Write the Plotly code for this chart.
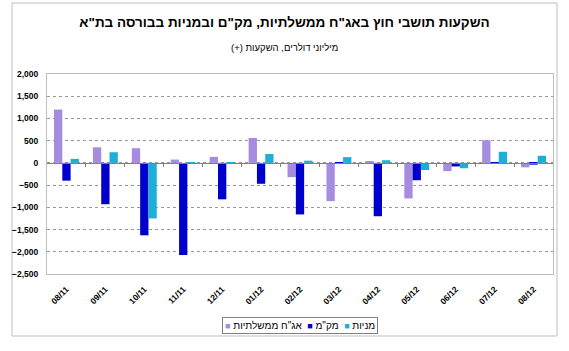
import plotly.graph_objects as go

months = ["08/11", "09/11", "10/11", "11/11", "12/11", "01/12", "02/12",
          "03/12", "04/12", "05/12", "06/12", "07/12", "08/12"]
gov_bonds = [1200, 350, 330, 75, 135, 560, -320, -860, 30, -800, -185, 510, -100]
makam = [-400, -930, -1630, -2070, -820, -470, -1160, -15, -1200, -390, -80, -10, -40]
stocks = [90, 240, -1250, -20, -10, 200, 50, 130, 60, -160, -120, 250, 160]

names = ['אג"ח ממשלתיות', 'מק"מ', 'מניות']
colors = ["#A68CDF", "#0000CC", "#1EAFD6"]
title = 'השקעות תושבי חוץ באג"ח ממשלתיות, מק"ם ובמניות בבורסה בת"א'
subtitle = "(+) מיליוני דולרים, השקעות"
yticks = [2000, 1500, 1000, 500, 0, -500, -1000, -1500, -2000, -2500]

FONT = "Arial, 'Liberation Sans', sans-serif"

fig = go.Figure()
for name, vals, col in zip(names, [gov_bonds, makam, stocks], colors):
    fig.add_trace(go.Bar(x=months, y=vals, name=name, marker=dict(color=col, line=dict(width=0))))

ymin, ymax = -2500, 2000
fig.update_layout(
    width=569, height=351,
    margin=dict(l=47, r=16, t=74, b=77),
    paper_bgcolor="white", plot_bgcolor="white",
    barmode="group", bargap=0.36, bargroupgap=0,
    font=dict(family=FONT, color="black"),
    title=dict(text="<b>" + title + "</b>", x=0.5, xref="container", xanchor="center",
               y=1 - 22 / 351, yref="container", yanchor="middle",
               font=dict(size=13.5, family=FONT, color="black")),
    showlegend=False,
    xaxis=dict(type="category", categoryarray=months, tickangle=-45, automargin=False,
               tickfont=dict(size=8.5, family=FONT, weight="bold"), ticks="", showline=True, mirror=True,
               linecolor="#BFBFBF", linewidth=1, showgrid=False, ticklabelstandoff=6),
    xaxis2=dict(overlaying="x", anchor="free", position=(0 - ymin) / (ymax - ymin),
                range=[-0.5, len(months) - 0.5], tickvals=[i + 0.5 for i in range(len(months) - 1)],
                showticklabels=False, ticks="outside", ticklen=3, tickcolor="#808080",
                showline=True, linecolor="#808080", linewidth=1, showgrid=False, zeroline=False),
    yaxis=dict(range=[ymin, ymax], tickvals=yticks, tickformat=",d", automargin=False,
               tickfont=dict(size=8.5, family=FONT, weight="bold"), showgrid=True, gridcolor="#999999",
               griddash="dot", gridwidth=1, zeroline=False, showline=True, mirror=True,
               linecolor="#BFBFBF", ticks="", ticklabelstandoff=6),
)
# invisible trace to activate xaxis2
fig.add_trace(go.Scatter(x=[0], y=[0], xaxis="x2", mode="markers", marker=dict(opacity=0),
                         showlegend=False, hoverinfo="skip"))

# subtitle
fig.add_annotation(text=subtitle, x=(284.5 - 47) / 506, xref="paper", xanchor="center",
                   y=(274 - 47) / 200, yref="paper", yanchor="middle", showarrow=False,
                   font=dict(size=9.5, family=FONT, color="black"))

# legend: swatch left of each label, items left-to-right in series order
sq = "<span style='color:%s;font-size:9px'>\u25A0</span>"
legend_text = "  \u200E".join(sq % c + " " + n for n, c in zip(names, colors))
fig.add_annotation(text=legend_text, x=(300 - 47) / 506, xref="paper", xanchor="center",
                   y=(274 - 325.5) / 200, yref="paper", yanchor="middle", showarrow=False,
                   bordercolor="#808080", borderwidth=1, borderpad=2, bgcolor="white",
                   font=dict(size=10, family=FONT, color="black"))

# chart frame
fig.add_shape(type="rect", xref="paper", yref="paper",
              x0=(12 - 47) / 506, x1=(557 - 47) / 506,
              y0=(274 - 336) / 200, y1=(274 - 3) / 200,
              line=dict(color="#BFBFBF", width=1), layer="below")

fig.write_html("out.html")
